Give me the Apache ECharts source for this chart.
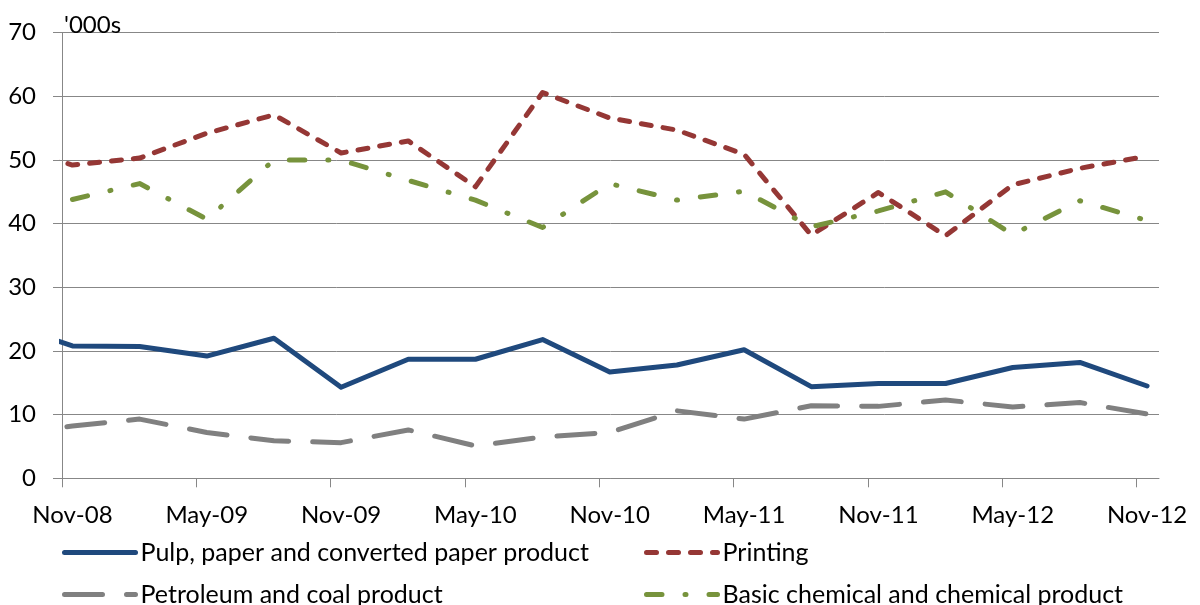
<!DOCTYPE html>
<html>
<head>
<meta charset="utf-8">
<script src="https://cdn.jsdelivr.net/npm/echarts@6/dist/echarts.min.js"></script>
<style>
html,body{margin:0;padding:0;background:#fff;}
#chart{width:1200px;height:605px;}
</style>
</head>
<body>
<div id="chart"></div>
<script>
// Quarterly observation dates (mid-month)
var dates = ['2008-08-15','2008-11-15','2009-02-15','2009-05-15','2009-08-15','2009-11-15',
  '2010-02-15','2010-05-15','2010-08-15','2010-11-15','2011-02-15','2011-05-15',
  '2011-08-15','2011-11-15','2012-02-15','2012-05-15','2012-08-15','2012-11-15'];

var pulp      = [24.3, 20.8, 20.7, 19.2, 22.0, 14.3, 18.7, 18.7, 21.8, 16.7, 17.8, 20.2, 14.4, 14.9, 14.9, 17.4, 18.2, 14.5];
var printing  = [52.7, 49.2, 50.3, 54.2, 57.1, 51.1, 53.0, 45.8, 60.6, 56.6, 54.7, 50.9, 38.2, 44.9, 38.1, 46.1, 48.7, 50.6];
var petroleum = [7.0, 8.2, 9.3, 7.2, 5.9, 5.6, 7.6, 5.1, 6.5, 7.2, 10.6, 9.3, 11.4, 11.3, 12.3, 11.2, 11.9, 10.1];
var chemical  = [null, 43.8, 46.3, 40.7, 50.0, 50.0, 46.8, 43.7, 39.4, 46.3, 43.7, 45.1, 39.5, 42.0, 45.0, 38.3, 43.6, 40.5];

var seriesNames = ['Pulp, paper and converted paper product', 'Printing',
  'Petroleum and coal product', 'Basic chemical and chemical product'];

// Axis: ticks on the 1st of each label month, labels centred on the mid-month observation
var xTickLabels = ['Nov-08','May-09','Nov-09','May-10','Nov-10','May-11','Nov-11','May-12','Nov-12'];
var xLabelDates = ['2008-11-15','2009-05-15','2009-11-15','2010-05-15','2010-11-15','2011-05-15','2011-11-15','2012-05-15','2012-11-15'];
var yTicks = [0, 10, 20, 30, 40, 50, 60, 70];
var yUnit = "'000s";

// months elapsed since 1 Nov 2008
function monthsSinceStart(s) {
  var p = s.split('-').map(Number);
  return (p[0] - 2008) * 12 + (p[1] - 11) + (p[2] - 1) / 30;
}
var xs = dates.map(monthsSinceStart);
function pairs(vals) { return vals.map(function (v, i) { return [xs[i], v]; }); }
var tickMonths = xTickLabels.map(function (_, i) { return i * 6; });
var labelMonths = xLabelDates.map(monthsSinceStart);

var FONT = 'Lato';
var FS = 24;
var GRID = '#878787';

var chart = echarts.init(document.getElementById('chart'), null, {renderer: 'canvas'});

function legend(name, left, top) {
  return {
    data: [name], left: left, top: top, padding: 0,
    itemWidth: 71, itemHeight: 14, selectedMode: false,
    itemStyle: {opacity: 0},
    lineStyle: {width: 5, cap: 'round'},
    textStyle: {fontFamily: FONT, fontSize: 25, color: '#000'}
  };
}

chart.setOption({
  animation: false,
  grid: {left: 62, right: 41, top: 32.7, bottom: 126.7, containLabel: false},
  xAxis: {
    type: 'value', min: 0, max: 49, interval: 6,
    axisLine: {show: true, lineStyle: {color: GRID, width: 1}},
    axisTick: {show: true, length: 9, customValues: tickMonths, lineStyle: {color: GRID}},
    axisLabel: {
      customValues: labelMonths, margin: 25,
      fontFamily: FONT, fontSize: FS, color: '#000',
      formatter: function (v) {
        var best = 0;
        labelMonths.forEach(function (m, i) { if (Math.abs(m - v) < Math.abs(labelMonths[best] - v)) best = i; });
        return xTickLabels[best];
      }
    },
    splitLine: {show: false}
  },
  yAxis: {
    type: 'value', min: yTicks[0], max: yTicks[yTicks.length - 1], interval: 10,
    name: yUnit, nameLocation: 'end', nameGap: 2,
    nameTextStyle: {fontFamily: FONT, fontSize: FS, color: '#000', align: 'left', verticalAlign: 'bottom', padding: [0, 0, -7, 2]},
    axisLine: {show: true, lineStyle: {color: GRID, width: 1}},
    axisTick: {show: true, length: 9, lineStyle: {color: GRID}},
    axisLabel: {margin: 26, fontFamily: FONT, fontSize: FS, color: '#000'},
    splitLine: {show: true, lineStyle: {color: GRID, width: 1}}
  },
  legend: [
    legend(seriesNames[0], 62, 540),
    legend(seriesNames[1], 644, 540),
    legend(seriesNames[2], 62, 582),
    legend(seriesNames[3], 644, 582)
  ],
  series: [
    {name: seriesNames[0], type: 'line', data: pairs(pulp), symbol: 'none', clip: true,
     lineStyle: {color: '#1F497D', width: 5, cap: 'round', join: 'round'}, itemStyle: {color: '#1F497D'}},
    {name: seriesNames[1], type: 'line', data: pairs(printing), symbol: 'none', clip: true,
     lineStyle: {color: '#953735', width: 5, type: [10, 12], cap: 'round', join: 'round'}, itemStyle: {color: '#953735'}},
    {name: seriesNames[2], type: 'line', data: pairs(petroleum), symbol: 'none', clip: true,
     lineStyle: {color: '#808080', width: 5, type: [38, 24], cap: 'round', join: 'round'}, itemStyle: {color: '#808080'}},
    {name: seriesNames[3], type: 'line', data: pairs(chemical), symbol: 'none', clip: true, connectNulls: false,
     lineStyle: {color: '#77933C', width: 5, type: [15.5, 23, 1, 23], cap: 'round', join: 'round'}, itemStyle: {color: '#77933C'}}
  ]
});
</script>
</body>
</html>
